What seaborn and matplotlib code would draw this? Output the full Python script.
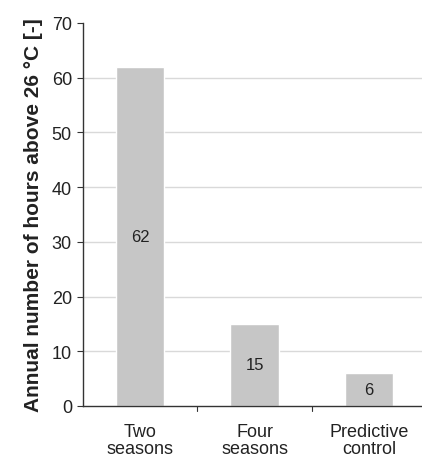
import matplotlib
matplotlib.use("Agg")
import matplotlib.pyplot as plt
import seaborn as sns
import pandas as pd

categories = ["Two\nseasons", "Four\nseasons", "Predictive\ncontrol"]
values = [62, 15, 6]
yticks = [0, 10, 20, 30, 40, 50, 60, 70]
ylabel = "Annual number of hours above 26 \u00b0C [-]"

sns.set_theme(style="white")
plt.rcParams['font.family'] = ['Liberation Sans', 'DejaVu Sans']

df = pd.DataFrame({"cat": categories, "val": values})

fig = plt.figure(figsize=(4.22, 4.60), dpi=100)
ax = fig.add_axes([83/422, 53/460, 1 - 83/422, (407-24)/460])

for y in yticks[1:-1]:
    ax.axhline(y, color="#d9d9d9", lw=1.0, zorder=0)

sns.barplot(data=df, x="cat", y="val", color="#c6c6c6", width=0.42,
            saturation=1, ax=ax, zorder=2)

for i, v in enumerate(values):
    ax.text(i, v / 2, str(v), ha="center", va="center", fontsize=12, color="#222222", zorder=3)

ax.set_ylim(0, 70)
ax.set_xlim(-0.5, 2.5 - 4/114)
ax.set_yticks(yticks)
ax.set_yticklabels([str(t) for t in yticks], fontsize=13, color="#222222")
ax.set_xticks([0, 1, 2])
ax.set_xticklabels(categories, fontsize=13, color="#222222", linespacing=1.05)
ax.tick_params(axis="x", length=0, pad=12)
ax.tick_params(axis="y", length=4, width=0.8, color="#333333", pad=4, left=True)
# boundary ticks between categories
for b in [0.5, 1.5]:
    ax.plot([b, b], [0, -1.0], color="#333333", lw=0.8, clip_on=False, zorder=5)

ax.set_xlabel("")
ax.set_ylabel(ylabel, fontsize=15, fontweight="bold", color="#222222", labelpad=6)

for s in ["top", "right"]:
    ax.spines[s].set_visible(False)
for s in ["left", "bottom"]:
    ax.spines[s].set_color("#333333")
    ax.spines[s].set_linewidth(1.0)

fig.savefig("out.png", dpi=100)
